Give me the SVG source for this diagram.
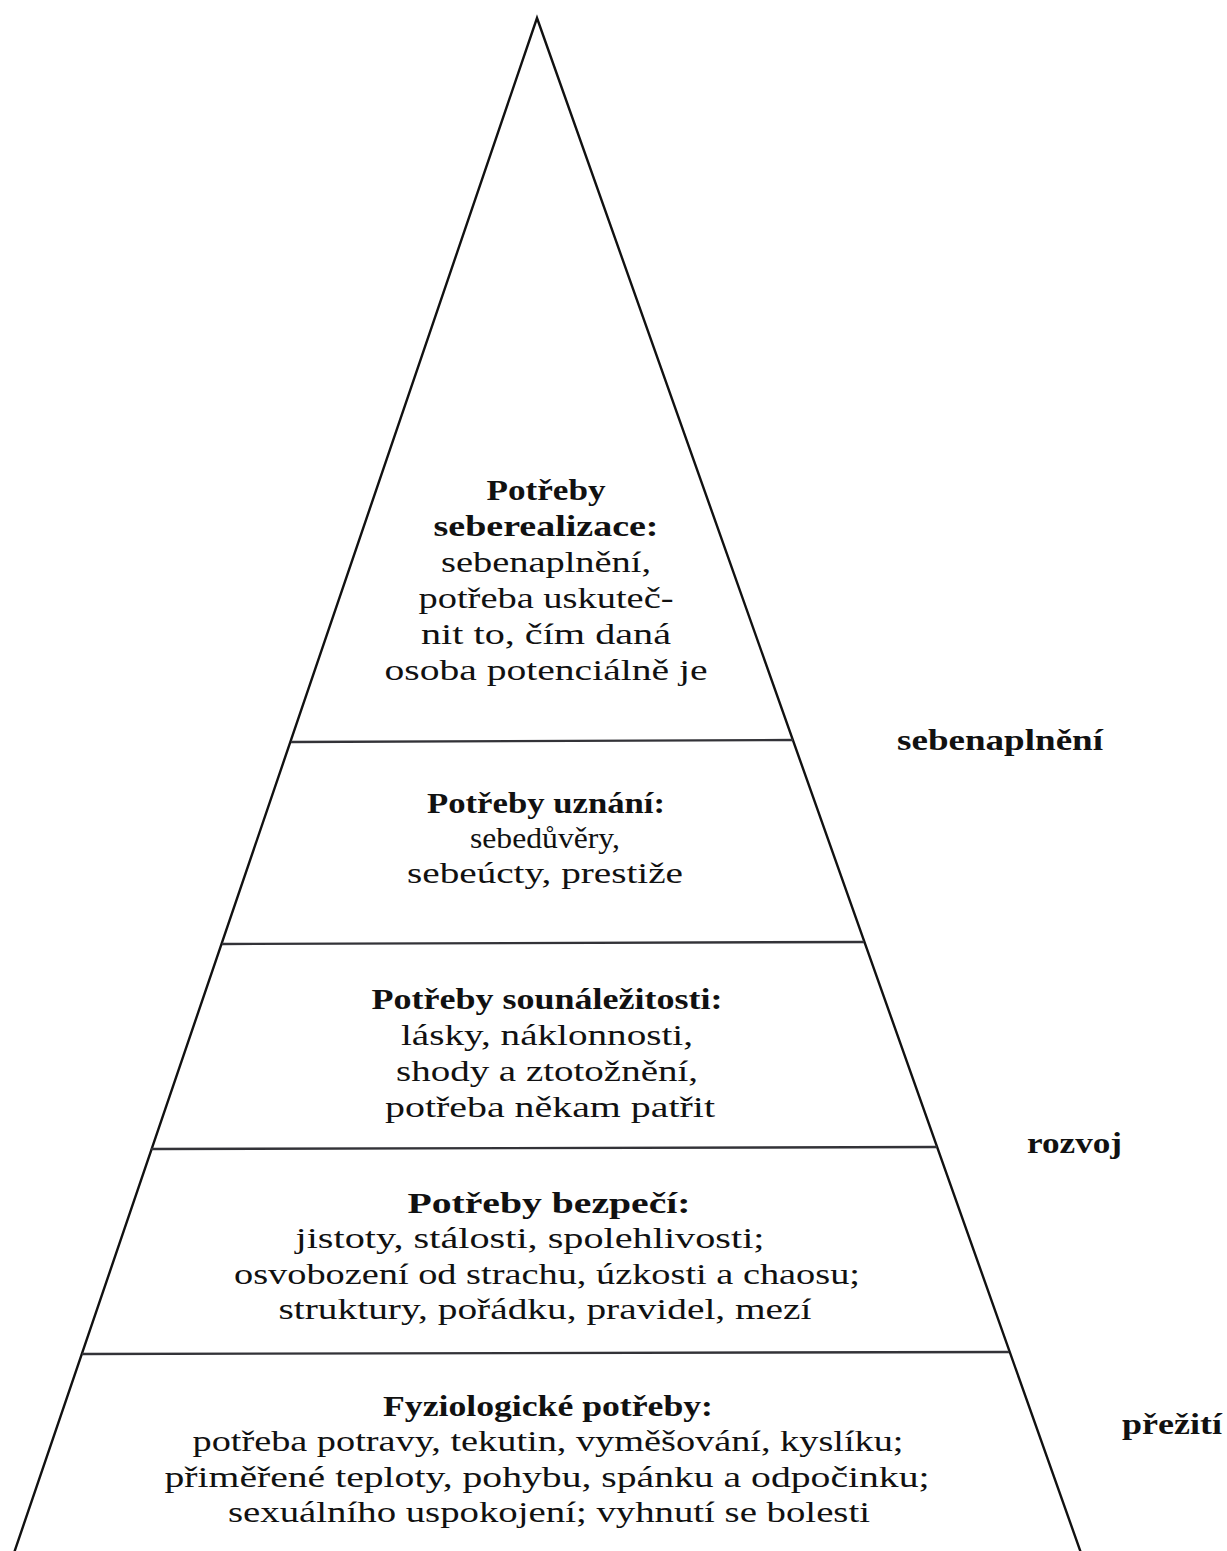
<svg xmlns="http://www.w3.org/2000/svg" width="1227" height="1551" viewBox="0 0 1227 1551">
<style>
.bg{fill:#ffffff}
.side{fill:none;stroke:#111111;stroke-width:2.4;stroke-linejoin:miter}
.div{fill:none;stroke:#333338;stroke-width:2.4}
text{font-family:"Liberation Serif","Times New Roman",serif;font-size:30px;fill:#111111;text-anchor:middle}
.b{font-weight:bold}
.lab{font-weight:bold;text-anchor:start}
</style>
<rect class="bg" x="0" y="0" width="1227" height="1551"/>
<g id="pyramid">
<polyline class="side" points="14,1553 537,18 1081,1553"/>
</g>
<g id="dividers">
<line class="div" x1="291" y1="742" x2="793" y2="740"/>
<line class="div" x1="222" y1="944" x2="864" y2="942"/>
<line class="div" x1="151" y1="1149" x2="937" y2="1147"/>
<line class="div" x1="82" y1="1354" x2="1009" y2="1352"/>
</g>
<g id="tier-seberealizace">
<text class="b" x="546" y="500" textLength="119" lengthAdjust="spacingAndGlyphs">Potřeby</text>
<text class="b" x="546" y="536" textLength="225" lengthAdjust="spacingAndGlyphs">seberealizace:</text>
<text x="546" y="572" textLength="210" lengthAdjust="spacingAndGlyphs">sebenaplnění,</text>
<text x="546" y="608" textLength="255" lengthAdjust="spacingAndGlyphs">potřeba uskuteč-</text>
<text x="546" y="644" textLength="250" lengthAdjust="spacingAndGlyphs">nit to, čím daná</text>
<text x="546" y="680" textLength="323" lengthAdjust="spacingAndGlyphs">osoba potenciálně je</text>
</g>
<g id="tier-uznani">
<text class="b" x="546" y="813" textLength="238" lengthAdjust="spacingAndGlyphs">Potřeby uznání:</text>
<text x="545" y="848" textLength="150" lengthAdjust="spacingAndGlyphs">sebed&#367;v&#283;ry,</text>
<text x="545" y="883" textLength="276" lengthAdjust="spacingAndGlyphs">sebeúcty, prestiže</text>
</g>
<g id="tier-sounalezitost">
<text class="b" x="547" y="1009" textLength="351" lengthAdjust="spacingAndGlyphs">Potřeby sounáležitosti:</text>
<text x="547" y="1045" textLength="292" lengthAdjust="spacingAndGlyphs">lásky, náklonnosti,</text>
<text x="547" y="1081" textLength="302" lengthAdjust="spacingAndGlyphs">shody a ztotožnění,</text>
<text x="550" y="1117" textLength="330" lengthAdjust="spacingAndGlyphs">potřeba někam patřit</text>
</g>
<g id="tier-bezpeci">
<text class="b" x="549" y="1213" textLength="283" lengthAdjust="spacingAndGlyphs">Potřeby bezpečí:</text>
<text x="530" y="1248" textLength="469" lengthAdjust="spacingAndGlyphs">jistoty, stálosti, spolehlivosti;</text>
<text x="547" y="1284" textLength="626" lengthAdjust="spacingAndGlyphs">osvobození od strachu, úzkosti a chaosu;</text>
<text x="545" y="1319" textLength="533" lengthAdjust="spacingAndGlyphs">struktury, pořádku, pravidel, mezí</text>
</g>
<g id="tier-fyziologicke">
<text class="b" x="548" y="1416" textLength="330" lengthAdjust="spacingAndGlyphs">Fyziologické potřeby:</text>
<text x="548" y="1451" textLength="711" lengthAdjust="spacingAndGlyphs">potřeba potravy, tekutin, vyměšování, kyslíku;</text>
<text x="547" y="1487" textLength="765" lengthAdjust="spacingAndGlyphs">přiměřené teploty, pohybu, spánku a odpočinku;</text>
<text x="549" y="1522" textLength="642" lengthAdjust="spacingAndGlyphs">sexuálního uspokojení; vyhnutí se bolesti</text>
</g>
<g id="label-sebenaplneni">
<text class="lab" x="897" y="750" textLength="206" lengthAdjust="spacingAndGlyphs">sebenaplnění</text>
</g>
<g id="label-rozvoj">
<text class="lab" x="1027" y="1153" textLength="95" lengthAdjust="spacingAndGlyphs">rozvoj</text>
</g>
<g id="label-preziti">
<text class="lab" x="1122" y="1434" textLength="100" lengthAdjust="spacingAndGlyphs">přežití</text>
</g>
</svg>
